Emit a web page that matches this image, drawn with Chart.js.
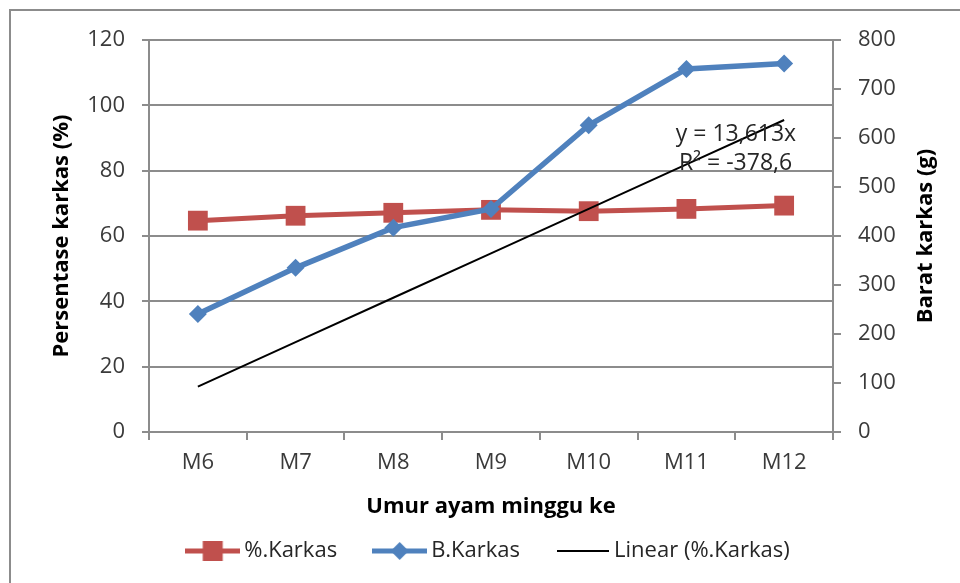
<!DOCTYPE html>
<html>
<head>
<meta charset="utf-8">
<script src="https://cdn.jsdelivr.net/npm/chart.js@4.4.1/dist/chart.umd.min.js"></script>
<style>
  html, body { margin: 0; padding: 0; background: #fff; }
  #wrap { position: relative; width: 960px; height: 583px; overflow: hidden; }
  #frame { position: absolute; left: 9px; top: 9px; width: 1000px; height: 1000px; border: 2px solid #8c8c8c; }
  #chart { position: absolute; left: 0; top: 0; }
</style>
</head>
<body>
<div id="wrap">
  <div id="frame"></div>
  <canvas id="chart" width="960" height="583"></canvas>
</div>
<script>
/* ---------- data ---------- */
const weeks = ['M6', 'M7', 'M8', 'M9', 'M10', 'M11', 'M12'];
const persenKarkas = [64.7, 66.2, 67.1, 68.0, 67.6, 68.3, 69.3];   // left axis (%)
const beratKarkas = [241, 335, 417, 455, 626, 741, 752];           // right axis (g)
const linearKarkas = [13.9, 27.5, 41.1, 54.7, 68.3, 81.9, 95.5];   // trendline of %.Karkas
const leftTicks = [0, 20, 40, 60, 80, 100, 120];
const rightTicks = [0, 100, 200, 300, 400, 500, 600, 700, 800];
const trendText = ['y = 13,613x', 'R\u00B2 = -378,6'];

const RED = '#C0504D';
const BLUE = '#4F81BD';
const GRID = '#8c8c8c';
const FONT = "'Open Sans', sans-serif";

Chart.defaults.font.family = FONT;
Chart.defaults.color = '#3a3a3a';

/* legend swatches: line with marker, like the spreadsheet legend */
function swatch(w, color, lw, marker) {
  const c = document.createElement('canvas');
  c.width = w; c.height = 22;
  const g = c.getContext('2d');
  g.strokeStyle = color;
  g.lineWidth = lw;
  g.beginPath(); g.moveTo(0, 11); g.lineTo(w, 11); g.stroke();
  g.fillStyle = color;
  if (marker === 'rect') g.fillRect(w / 2 - 10, 1, 20, 20);
  if (marker === 'diamond') {
    g.beginPath();
    g.moveTo(w / 2, 2); g.lineTo(w / 2 + 9, 11); g.lineTo(w / 2, 20); g.lineTo(w / 2 - 9, 11);
    g.closePath(); g.fill();
  }
  return c;
}

/* texts Chart.js can't place as wanted: right title (reads upward) + trendline label */
const extraText = {
  id: 'extraText',
  afterDatasetsDraw(chart) {
    const { ctx, scales } = chart;
    ctx.save();
    ctx.fillStyle = '#262626';
    ctx.font = '23px ' + FONT;
    ctx.textAlign = 'right';
    ctx.textBaseline = 'middle';
    const x = scales.x.getPixelForValue(6) + 12;
    ctx.fillText(trendText[0], x, scales.y.getPixelForValue(91.2));
    ctx.fillText(trendText[1], x - 4, scales.y.getPixelForValue(82.1));
    ctx.restore();

    ctx.save();
    ctx.fillStyle = '#000';
    ctx.font = 'bold 22px ' + FONT;
    ctx.textAlign = 'center';
    ctx.textBaseline = 'middle';
    ctx.translate(926, (chart.chartArea.top + chart.chartArea.bottom) / 2);
    ctx.rotate(-Math.PI / 2);
    ctx.fillText('Barat karkas (g)', 0, 0);
    ctx.restore();
  }
};

const legendIcons = [
  swatch(55, RED, 5, 'rect'),
  swatch(55, BLUE, 5, 'diamond'),
  swatch(52, '#000', 2, null)
];

new Chart(document.getElementById('chart'), {
  type: 'line',
  data: {
    labels: weeks,
    datasets: [
      {
        label: '%.Karkas',
        data: persenKarkas,
        yAxisID: 'y',
        borderColor: RED,
        backgroundColor: RED,
        borderWidth: 5,
        pointStyle: 'rect',
        pointRadius: 14,
        pointBorderWidth: 0,
        order: 3
      },
      {
        label: 'B.Karkas',
        data: beratKarkas,
        yAxisID: 'y1',
        borderColor: BLUE,
        backgroundColor: BLUE,
        borderWidth: 5.5,
        pointStyle: 'rectRot',
        pointRadius: 9,
        pointBorderWidth: 0,
        order: 2
      },
      {
        label: 'Linear (%.Karkas)',
        data: linearKarkas,
        yAxisID: 'y',
        borderColor: '#000',
        borderWidth: 2,
        pointRadius: 0,
        order: 1
      }
    ]
  },
  options: {
    responsive: false,
    animation: false,
    events: [],
    layout: { padding: { top: 40, left: 0, right: 0, bottom: 11 } },
    plugins: {
      tooltip: { enabled: false },
      legend: {
        position: 'bottom',
        fullSize: false,
        labels: {
          font: { size: 22 },
          color: '#262626',
          padding: 42,
          usePointStyle: true,
          pointStyleWidth: 41,
          generateLabels: chart => chart.data.datasets.map((ds, i) => ({
            text: ds.label,
            pointStyle: legendIcons[i],
            datasetIndex: i,
            fontColor: '#262626',
            lineWidth: 0,
            strokeStyle: 'transparent',
            fillStyle: 'transparent'
          }))
        }
      }
    },
    scales: {
      x: {
        offset: true,
        afterFit: s => { s.height = 66; },
        grid: { offset: true, drawOnChartArea: false, color: GRID, lineWidth: 2, tickLength: 8 },
        border: { color: GRID, width: 2 },
        ticks: { font: { size: 22 }, padding: 10, maxRotation: 0 },
        title: {
          display: true,
          text: 'Umur ayam minggu ke',
          color: '#000',
          font: { size: 22, weight: 'bold' },
          padding: { top: 0, bottom: -22 }
        }
      },
      y: {
        position: 'left',
        min: leftTicks[0],
        max: leftTicks[leftTicks.length - 1],
        afterFit: s => { s.width = 149; },
        grid: { color: GRID, lineWidth: 2, tickLength: 7 },
        border: { color: GRID, width: 2 },
        ticks: { stepSize: leftTicks[1] - leftTicks[0], font: { size: 22 }, padding: 17 },
        title: {
          display: true,
          text: 'Persentase karkas (%)',
          color: '#000',
          font: { size: 22, weight: 'bold' },
          padding: { top: 49, bottom: 0 }
        }
      },
      y1: {
        position: 'right',
        min: rightTicks[0],
        max: rightTicks[rightTicks.length - 1],
        afterFit: s => { s.width = 127; },
        grid: { drawOnChartArea: false, color: GRID, lineWidth: 2, tickLength: 8 },
        border: { color: GRID, width: 2 },
        ticks: { stepSize: rightTicks[1] - rightTicks[0], font: { size: 22 }, padding: 17 }
      }
    }
  },
  plugins: [extraText]
});
</script>
</body>
</html>
